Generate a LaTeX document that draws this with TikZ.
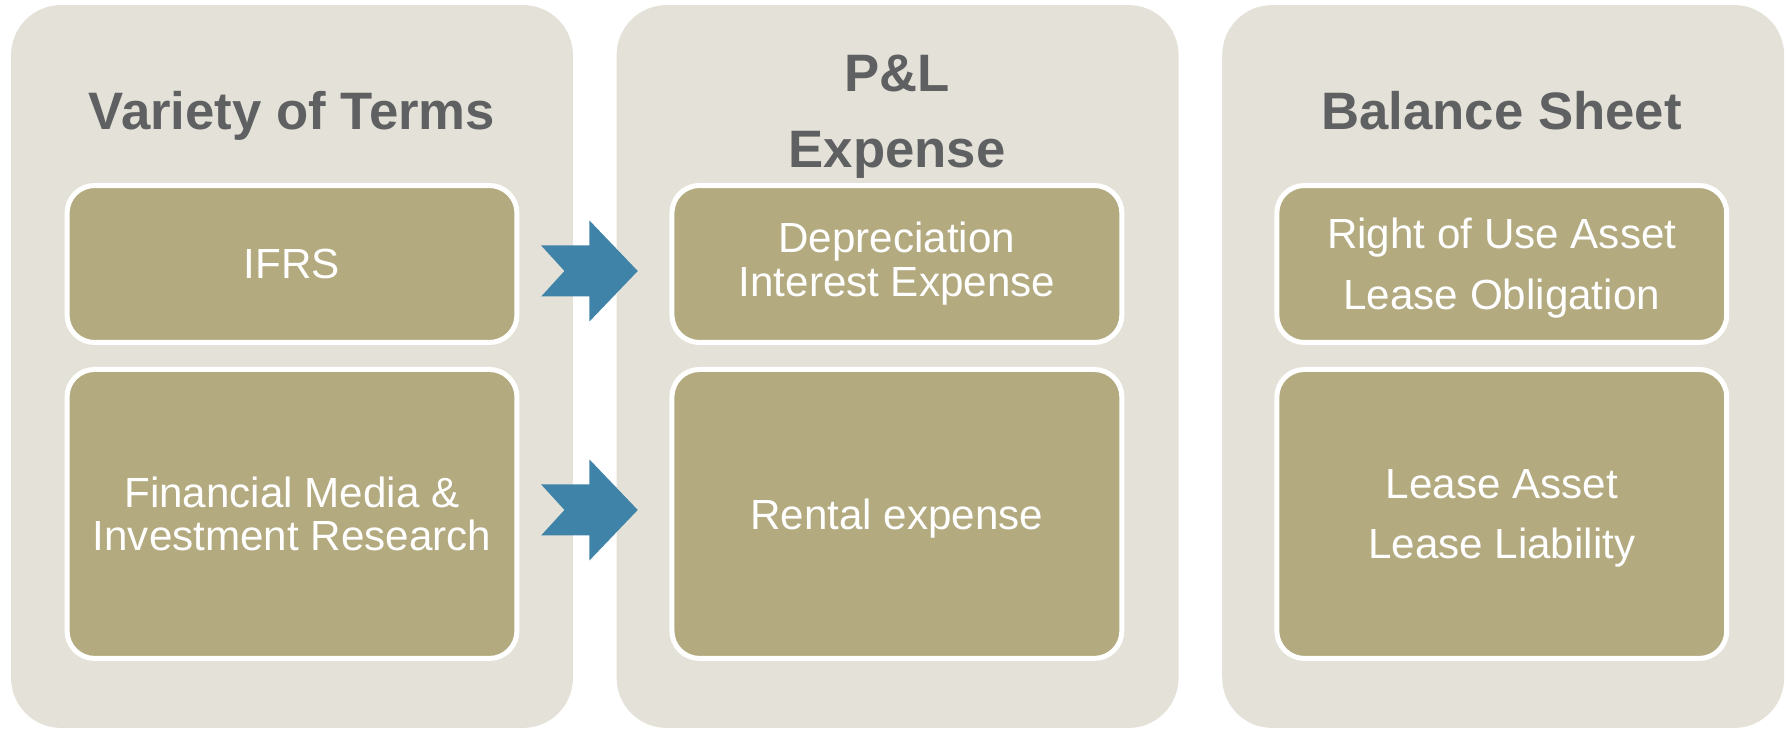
\documentclass[tikz,border=0pt]{standalone}
\usepackage{fontspec}
\setmainfont{Liberation Sans}
\usepackage{tikz}
\usetikzlibrary{positioning, calc}
\definecolor{panelgray}{HTML}{E4E2D8}
\definecolor{termfill}{HTML}{B3AA80}
\definecolor{titlegray}{HTML}{5F6062}
\definecolor{flowblue}{HTML}{3F84A8}
\tikzset{
    panel/.style={rectangle, rounded corners=1cm, fill=panelgray, minimum width=11.24cm, minimum height=14.46cm, inner sep=0pt},
    title/.style={font=\fontsize{30}{43}\selectfont\bfseries, text=titlegray, align=center, inner sep=0pt},
    block/.style={rectangle, rounded corners=0.55cm, draw=white, line width=0.1cm, fill=termfill, text=white, align=center, minimum width=9cm, font=\fontsize{24}{25}\selectfont},
    smallblock/.style={block, minimum height=3.14cm},
    largeblock/.style={block, minimum height=5.78cm},
    widelines/.style={font=\fontsize{24}{34.5}\selectfont, text depth=0pt},
    flow/.style={fill=flowblue}
}

\begin{document}
\begin{tikzpicture}[x=0.02cm, y=-0.02cm]
    \fill[white] (0,0) rectangle (1787,729);
    \useasboundingbox (0,0) rectangle (1787,729);

    \node [panel] (TermsPanel) at (292,366.5) {};
    \node [panel, right=0.86cm of TermsPanel] (PLPanel) {};
    \node [panel, right=0.86cm of PLPanel] (SheetPanel) {};

    \node [title, anchor=base] (TermsTitle) at (292,130) {Variety of Terms};
    \node [title] (PLTitle) at (897,116.5) {P\&L\\Expense};
    \node [title, anchor=base] (SheetTitle) at (1501.5,130) {Balance Sheet};

    \node [smallblock] (IFRS) at (292,264) {IFRS};
    \node [largeblock, below=0.44cm of IFRS] (Media) {Financial Media \&\\Investment Research};
    \node [smallblock, right=3cm of IFRS] (Dep) {Depreciation\\Interest Expense};
    \node [largeblock, text depth=0pt, below=0.44cm of Dep] (Rental) {Rental expense};
    \node [smallblock, widelines, right=3cm of Dep] (RoU) {Right of Use Asset\\Lease Obligation};
    \node [largeblock, widelines, below=0.44cm of RoU] (Lease) {Lease Asset\\Lease Liability};

    \fill [flow, shift={($(IFRS.east)!0.5!(Dep.west)+(-5,7)$)}] (-48.3,-25.5) -- (0,-25.5) -- (0,-50.5) -- (48.3,0) -- (0,50.5) -- (0,25.5) -- (-48.3,25.5) -- (-25,0) -- cycle;
    \fill [flow, shift={($(Media.east)!0.5!(Rental.west)+(-5,-4)$)}] (-48.3,-25.5) -- (0,-25.5) -- (0,-50.5) -- (48.3,0) -- (0,50.5) -- (0,25.5) -- (-48.3,25.5) -- (-25,0) -- cycle;
\end{tikzpicture}
\end{document}
